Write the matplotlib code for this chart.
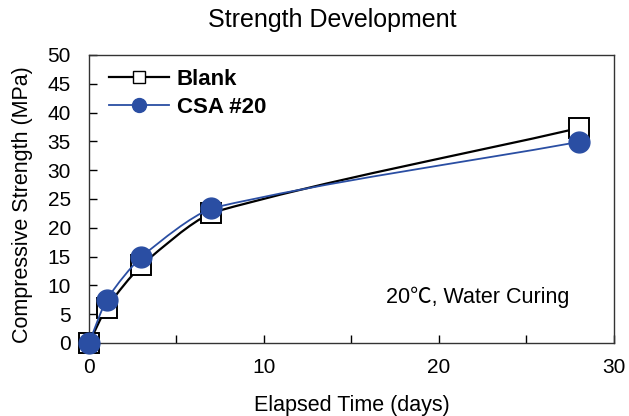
import matplotlib
matplotlib.use("Agg")
import matplotlib.pyplot as plt
from matplotlib.path import Path
from matplotlib.patches import PathPatch
from matplotlib.lines import Line2D
import numpy as np

plt.rcParams["font.family"] = ["Liberation Sans", "DejaVu Sans"]

# data
days = [0, 1, 3, 7, 28]
blank = [0, 6.1, 13.5, 22.6, 37.3]
csa20 = [0, 7.5, 15.0, 23.4, 34.9]

BLUE = "#2a4ea3"


def smooth_path(xs, ys, tension=0.6):
    """Lightly smoothed line through the points (cubic Bezier segments)."""
    x = np.asarray(xs, float)
    y = np.asarray(ys, float)
    h = np.diff(x)
    d = np.diff(y) / h
    n = len(x)
    m = np.empty(n)
    m[0], m[-1] = d[0], d[-1]
    m[1:-1] = (y[2:] - y[:-2]) / (x[2:] - x[:-2])
    verts = [(x[0], y[0])]
    codes = [Path.MOVETO]
    for i in range(n - 1):
        t0 = d[i] + tension * (m[i] - d[i])
        t1 = d[i] + tension * (m[i + 1] - d[i])
        verts += [(x[i] + h[i] / 3, y[i] + t0 * h[i] / 3),
                  (x[i + 1] - h[i] / 3, y[i + 1] - t1 * h[i] / 3),
                  (x[i + 1], y[i + 1])]
        codes += [Path.CURVE4] * 3
    return Path(verts, codes)


fig = plt.figure(figsize=(6.29, 4.16), dpi=100)
ax = fig.add_axes([0.1415, 0.1755, 0.8345, 0.6925])

ax.add_patch(PathPatch(smooth_path(days, blank), fill=False, ec="black", lw=1.6, zorder=2))
ax.plot(days, blank, ls="none", marker="s", ms=14, mfc="white", mec="black", mew=1.4,
        zorder=3, clip_on=False)
ax.add_patch(PathPatch(smooth_path(days, csa20), fill=False, ec=BLUE, lw=1.3, zorder=4))
ax.plot(days, csa20, ls="none", marker="o", ms=15, mfc=BLUE, mec=BLUE, zorder=5,
        clip_on=False)

ax.set_xlim(0, 30)
ax.set_ylim(0, 50)
ax.set_xticks([0, 10, 20, 30])
ax.set_xticks([5, 15, 25], minor=True)
ax.set_yticks(range(0, 51, 5))
ax.tick_params(which="both", direction="in", labelsize=15, length=6, width=1)
ax.tick_params(axis="x", pad=11)
ax.tick_params(axis="y", pad=13)
for s in ax.spines.values():
    s.set_linewidth(1.0)
    s.set_color("#333333")

ax.set_xlabel("Elapsed Time (days)", fontsize=15.5)
ax.xaxis.set_label_coords(0.5, -0.18)
ax.set_ylabel("Compressive Strength (MPa)", fontsize=15.5)
ax.yaxis.set_label_coords(-0.1067, 0.479)
fig.text(0.528, 0.952, "Strength Development", fontsize=18, ha="center", va="center")

ax.text(0.916, 0.16, "20\u2103, Water Curing", transform=ax.transAxes,
        ha="right", va="center", fontsize=15.5,
        family=["Liberation Sans", "Noto Sans CJK JP", "DejaVu Sans"])

handles = [
    Line2D([], [], color="black", lw=1.6, marker="s", ms=9, mfc="white", mec="black"),
    Line2D([], [], color=BLUE, lw=1.3, marker="o", ms=10, mfc=BLUE, mec=BLUE),
]
ax.legend(handles, ["Blank", "CSA #20"], loc="upper left", bbox_to_anchor=(0.0, 1.02),
          frameon=False, prop={"weight": "bold", "size": 16}, handlelength=2.7,
          handletextpad=0.35, labelspacing=0.3)

fig.savefig("out.png", dpi=100)
